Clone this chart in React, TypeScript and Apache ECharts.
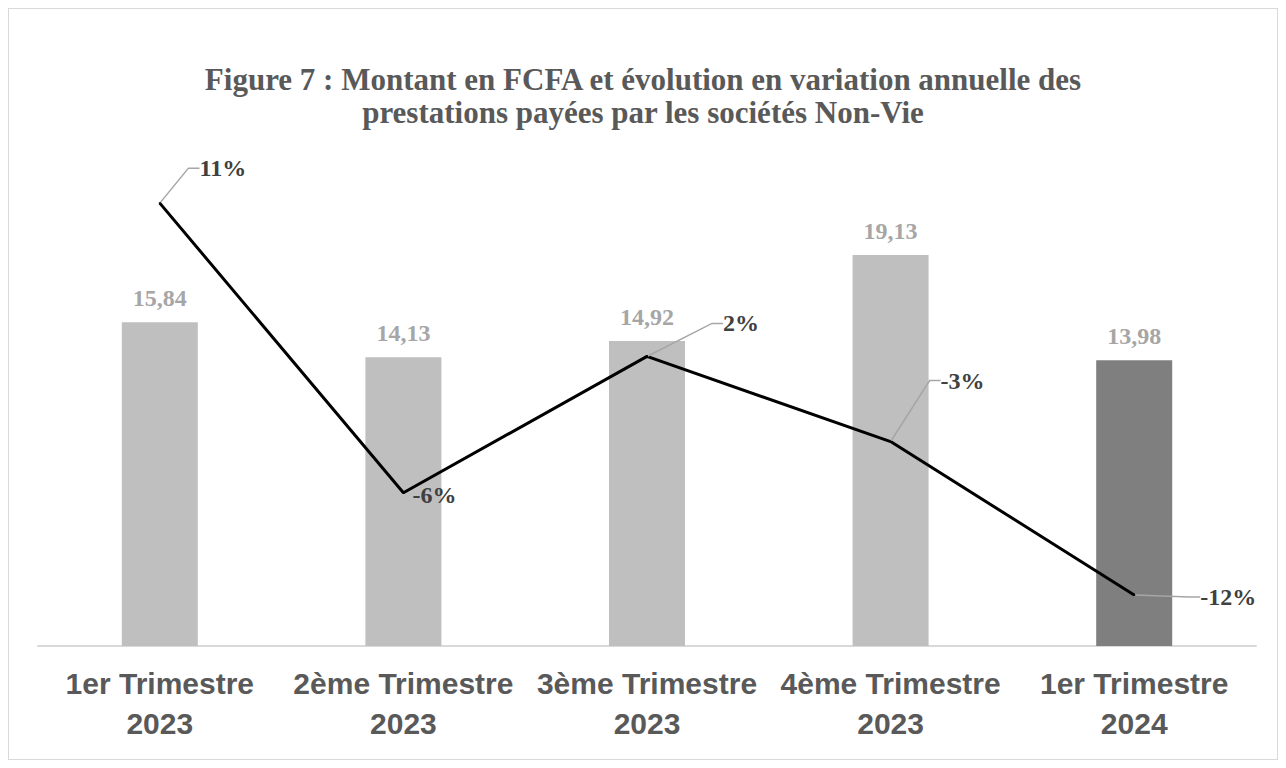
import React, { useEffect, useRef } from "react";
import * as echarts from "echarts";

const categories = [
  "1er Trimestre\n2023",
  "2ème Trimestre\n2023",
  "3ème Trimestre\n2023",
  "4ème Trimestre\n2023",
  "1er Trimestre\n2024",
];
const montants = [15.84, 14.13, 14.92, 19.13, 13.98];
const variations = [11, -6, 2, -3, -12];

// label placement offsets (layout only), relative to each point
const labelOffsets = [
  [63, -35],
  [31, 2],
  [94, -33],
  [72, -61],
  [94, 2],
];

export default function App() {
  const ref = useRef<HTMLDivElement>(null);
  useEffect(() => {
    if (!ref.current) return;
    const chart = echarts.init(ref.current, undefined, { renderer: "svg" });
    const serif = "'Liberation Serif', 'Times New Roman', serif";
    const sans = "'Liberation Sans', Arial, sans-serif";
    chart.setOption({
      animation: false,
      backgroundColor: "#ffffff",
      title: {
        text: "Figure 7 : Montant en FCFA et évolution en variation annuelle des\nprestations payées par les sociétés Non-Vie",
        left: "center",
        top: 54,
        padding: 0,
        textStyle: {
          fontFamily: serif,
          fontWeight: "bold",
          fontSize: 31,
          lineHeight: 33,
          color: "#595959",
        },
      },
      grid: { left: 29, right: 21, top: 126, bottom: 113, containLabel: false },
      xAxis: {
        type: "category",
        data: categories,
        axisLine: { onZero: false, lineStyle: { color: "#d9d9d9", width: 2 } },
        axisTick: { show: false },
        axisLabel: {
          margin: 17,
          fontFamily: sans,
          fontWeight: "bold",
          fontSize: 30,
          lineHeight: 40,
          color: "#595959",
          interval: 0,
        },
      },
      yAxis: [
        { type: "value", min: 0, max: 25, show: false, splitLine: { show: false } },
        { type: "value", min: -15, max: 15, show: false, splitLine: { show: false } },
      ],
      series: [
        {
          type: "bar",
          yAxisIndex: 0,
          barWidth: 76,
          data: montants.map((v, i) => ({
            value: v,
            itemStyle: { color: i === montants.length - 1 ? "#7f7f7f" : "#bfbfbf" },
          })),
          label: {
            show: true,
            position: "top",
            distance: 12,
            fontFamily: serif,
            fontWeight: "bold",
            fontSize: 24,
            color: "#a6a6a6",
            formatter: (p: any) => p.value.toFixed(2).replace(".", ","),
          },
        },
        {
          type: "line",
          yAxisIndex: 1,
          data: variations.map((v, i) => ({
            value: v,
            labelLine: { show: i !== 1 },
          })),
          symbol: "circle",
          symbolSize: 2,
          itemStyle: { color: "#000000" },
          lineStyle: { color: "#000000", width: 3 },
          label: {
            show: true,
            position: "inside",
            fontFamily: serif,
            fontWeight: "bold",
            fontSize: 24,
            color: "#404040",
            padding: [0, 6],
            formatter: (p: any) => `${p.value}%`,
          },
          labelLine: {
            show: true,
            length2: 11,
            lineStyle: { color: "#a6a6a6", width: 1.5 },
          },
          labelLayout: (params: any) => {
            const o = labelOffsets[params.dataIndex] || [0, 0];
            return { dx: o[0], dy: o[1] };
          },
        },
      ],
    });
    return () => chart.dispose();
  }, []);
  return (
    <div
      ref={ref}
      style={{
        width: 1270,
        height: 752,
        border: "1px solid #d9d9d9",
        boxSizing: "border-box",
      }}
    />
  );
}
